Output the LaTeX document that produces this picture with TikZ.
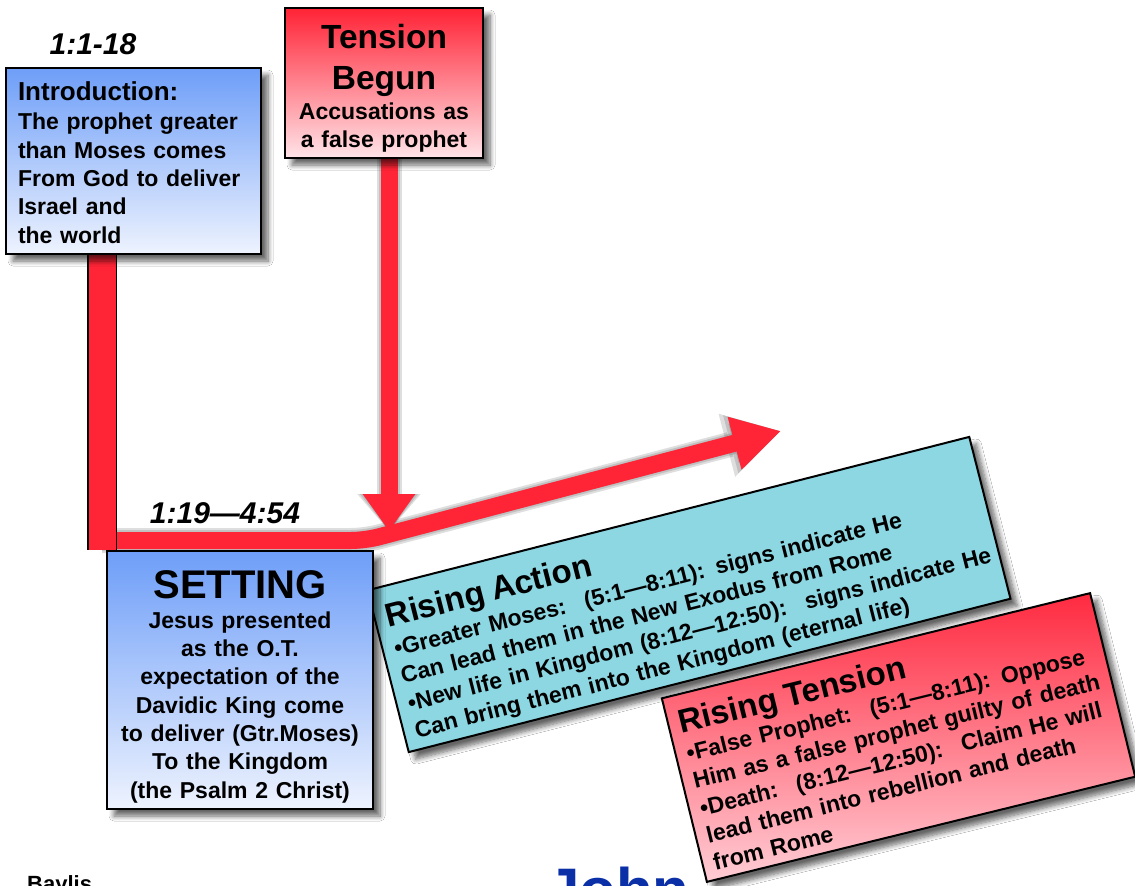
\documentclass[tikz,border=0pt]{standalone}
\usepackage{fontspec}
\setmainfont{Liberation Sans}
\usetikzlibrary{arrows.meta,shadows.blur}
\definecolor{arrowred}{HTML}{FF2436}
\definecolor{bluetop}{HTML}{6E9EF8}
\definecolor{bluebot}{HTML}{EEF3FE}
\definecolor{redtop}{HTML}{FF2336}
\definecolor{redbot}{HTML}{FFE4E8}
\definecolor{cyanbox}{HTML}{8CD7E2}
\definecolor{rttop}{HTML}{FF2A40}
\definecolor{rtbot}{HTML}{FFCDD5}
\definecolor{johnblue}{HTML}{0A2FA6}
\pgfdeclarelayer{bg}
\pgfsetlayers{bg,main}
\tikzset{
  box/.style={draw=black, line width=2pt, inner ysep=0pt,
    blur shadow={shadow xshift=7pt, shadow yshift=-7pt, shadow blur radius=5pt, shadow blur steps=8, shadow opacity=60}},
  bluebox/.style={box, top color=bluetop, bottom color=bluebot},
  redbox/.style={box, top color=redtop, bottom color=redbot},
  cyanboxstyle/.style={box, fill=cyanbox},
  rtbox/.style={box, top color=rttop, bottom color=rtbot},
  bodyfont/.style={font=\bfseries\fontsize{23}{28}\selectfont},
  reflabel/.style={font=\bfseries\itshape\fontsize{30}{30}\selectfont, inner sep=0pt},
  barshadow/.style={draw=black, opacity=.13, xshift=6pt, yshift=-6pt},
  redarrow/.style={draw=arrowred, line width=17pt},
}
\begin{document}
\begin{tikzpicture}[x=1pt,y=-1pt]
\useasboundingbox (0,0) rectangle (1135,886);

\coordinate (vbar) at (102,0);
\coordinate (corner) at (102,540.5);
\coordinate (bend) at (365,540.5);
\coordinate (goal) at (781,431);
\coordinate (dtip) at (389,531);

\node[reflabel] (lab1) at (93,44) {1:1-18};
\node[reflabel] (lab2) at (225,513) {1:19—4:54};

\node[font=\bfseries\fontsize{22}{22}\selectfont, anchor=base west, inner sep=0pt] (baylis) at (27,891) {Baylis};
\node[font=\bfseries\fontsize{60}{60}\selectfont, text=johnblue, anchor=base west, inner sep=0pt] (john) at (546,910) {John};

% Rising Action
\node[cyanboxstyle, bodyfont, rotate=14.3, minimum width=621, minimum height=167,
      text width=598, inner xsep=11.5pt, align=left] (action) at (689,594.5)
  {\mbox{\fontsize{33}{28}\selectfont \rule{0pt}{35pt}Rising Action}\\[2pt]
   \mbox{•Greater Moses:~ (5:1—8:11): signs indicate He}\\
   \mbox{Can lead them in the New Exodus from Rome}\\
   \mbox{•New life in Kingdom (8:12—12:50):~ signs indicate He}\\
   \mbox{Can bring them into the Kingdom (eternal life)}};

% Introduction
\node[bluebox, font=\bfseries\fontsize{23}{28.3}\selectfont, minimum width=255, minimum height=186, text width=231,
      inner xsep=12pt, align=left] (intro) at (133.5,161)
  {\rule{0pt}{22pt}{\fontsize{26}{28}\selectfont Introduction:}\\[1pt]
   The prophet greater\\ than Moses comes\\ From God to deliver\\ Israel and\\ the world};

% Tension Begun
\node[redbox, bodyfont, minimum width=198, minimum height=150, text width=190,
      inner xsep=4pt, align=center] (tension) at (384,83)
  {{\fontsize{33.5}{28}\selectfont \rule{0pt}{34pt}Tension\\[13pt] Begun}\\[2pt]
   Accusations as\\ a false prophet};

% Setting
\node[bluebox, font=\bfseries\fontsize{23}{28.3}\selectfont, minimum width=266, minimum height=258, text width=256,
      inner xsep=5pt, align=center] (setting) at (240,680)
  {{\fontsize{40}{28}\selectfont \rule{0pt}{41pt}SETTING}\\[2pt]
   Jesus presented\\ as the O.T.\\ expectation of the\\ Davidic King come\\
   to deliver (Gtr.Moses)\\ To the Kingdom\\ (the Psalm 2 Christ)};

% Rising Tension
\node[rtbox, bodyfont, rotate=13.8, minimum width=441, minimum height=189,
      text width=419, inner xsep=11pt, align=left] (rtension) at (898.5,737.5)
  {\mbox{\fontsize{33}{28}\selectfont \rule{0pt}{30pt}Rising Tension}\\[1pt]
   \mbox{•False Prophet:~ (5:1—8:11): Oppose}\\
   \mbox{Him as a false prophet guilty of death}\\
   \mbox{•Death:~ (8:12—12:50):~ Claim He will}\\
   \mbox{lead them into rebellion and death}\\
   \mbox{from Rome}};

\begin{pgfonlayer}{bg}
  \fill[white] (0,0) rectangle (1135,886);
  % blurred shadows of the connectors
  \foreach \w/\l/\wd in {17/48/51, 21/52/56, 25/56/61}{
    \draw[barshadow, line width=\w pt, rounded corners=14pt,
          -{Triangle[length=\l pt,width=\wd pt]}] (corner) -- (bend) -- (goal);
    \draw[barshadow, line width=\w pt, -{Triangle[length=37pt,width=\wd pt]}]
          (tension.south -| dtip) -- (dtip);
  }
  % connectors
  \draw[redarrow, rounded corners=14pt, -{Triangle[length=48pt,width=51pt]}]
        (corner) -- (bend) -- (goal);
  \draw[redarrow, -{Triangle[length=37pt,width=50pt]}]
        (tension.south -| dtip) -- (dtip);
  \draw[draw=arrowred, line width=27pt, preaction={draw=black, line width=30pt}]
        (intro.south -| vbar) -- (setting.north -| vbar);
\end{pgfonlayer}
\end{tikzpicture}
\end{document}
